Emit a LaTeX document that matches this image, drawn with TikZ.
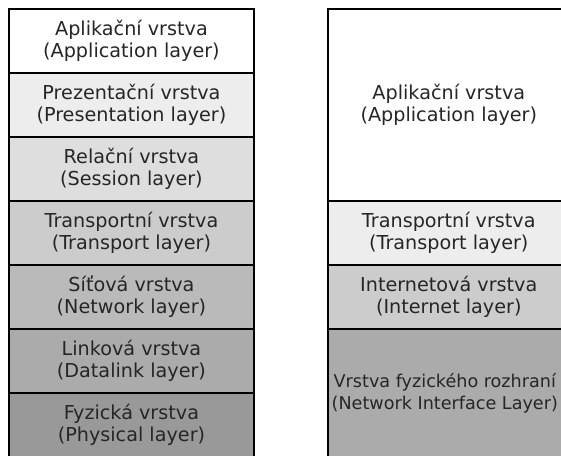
\documentclass[tikz,border=0pt]{standalone}
\usepackage{fontspec}
\setmainfont{DejaVu Sans}
\begin{document}
\begin{tikzpicture}[x=1pt,y=-1pt,
  layer/.style={draw=black, line width=1.6pt, rectangle, anchor=north west, inner sep=0pt,
    align=center, font=\fontsize{19.2}{22}\selectfont, text=black!85},
  leftl/.style={layer, minimum width=245.3pt, minimum height=64pt},
  rightl/.style={layer, minimum width=242pt}]
\useasboundingbox (0,0) rectangle (561,455);
\clip (0,0) rectangle (561,455);
\node[leftl, fill=white]        (l1) at (8,8)   {Aplikační vrstva\\(Application layer)};
\node[leftl, fill=black!7]      (l2) at (8,72)  {Prezentační vrstva\\(Presentation layer)};
\node[leftl, fill=black!13]     (l3) at (8,136) {Relační vrstva\\(Session layer)};
\node[leftl, fill=black!20]     (l4) at (8,200) {Transportní vrstva\\(Transport layer)};
\node[leftl, fill=black!27]     (l5) at (8,264) {Síťová vrstva\\(Network layer)};
\node[leftl, fill=black!33]     (l6) at (8,328) {Linková vrstva\\(Datalink layer)};
\node[leftl, fill=black!40]     (l7) at (8,392) {Fyzická vrstva\\(Physical layer)};
\node[rightl, fill=white, minimum height=192pt]   (r1) at (327,8)   {Aplikační vrstva\\(Application layer)};
\node[rightl, fill=black!7, minimum height=64pt]  (r2) at (327,200) {Transportní vrstva\\(Transport layer)};
\node[rightl, fill=black!20, minimum height=64pt] (r3) at (327,264) {Internetová vrstva\\(Internet layer)};
\node[rightl, fill=black!33, minimum height=128pt, font=\fontsize{17.6}{22}\selectfont] (r4) at (327,328)
  {\hspace*{-8pt}Vrstva fyzického rozhraní\\\hspace*{-8pt}(Network Interface Layer)};
\end{tikzpicture}
\end{document}
